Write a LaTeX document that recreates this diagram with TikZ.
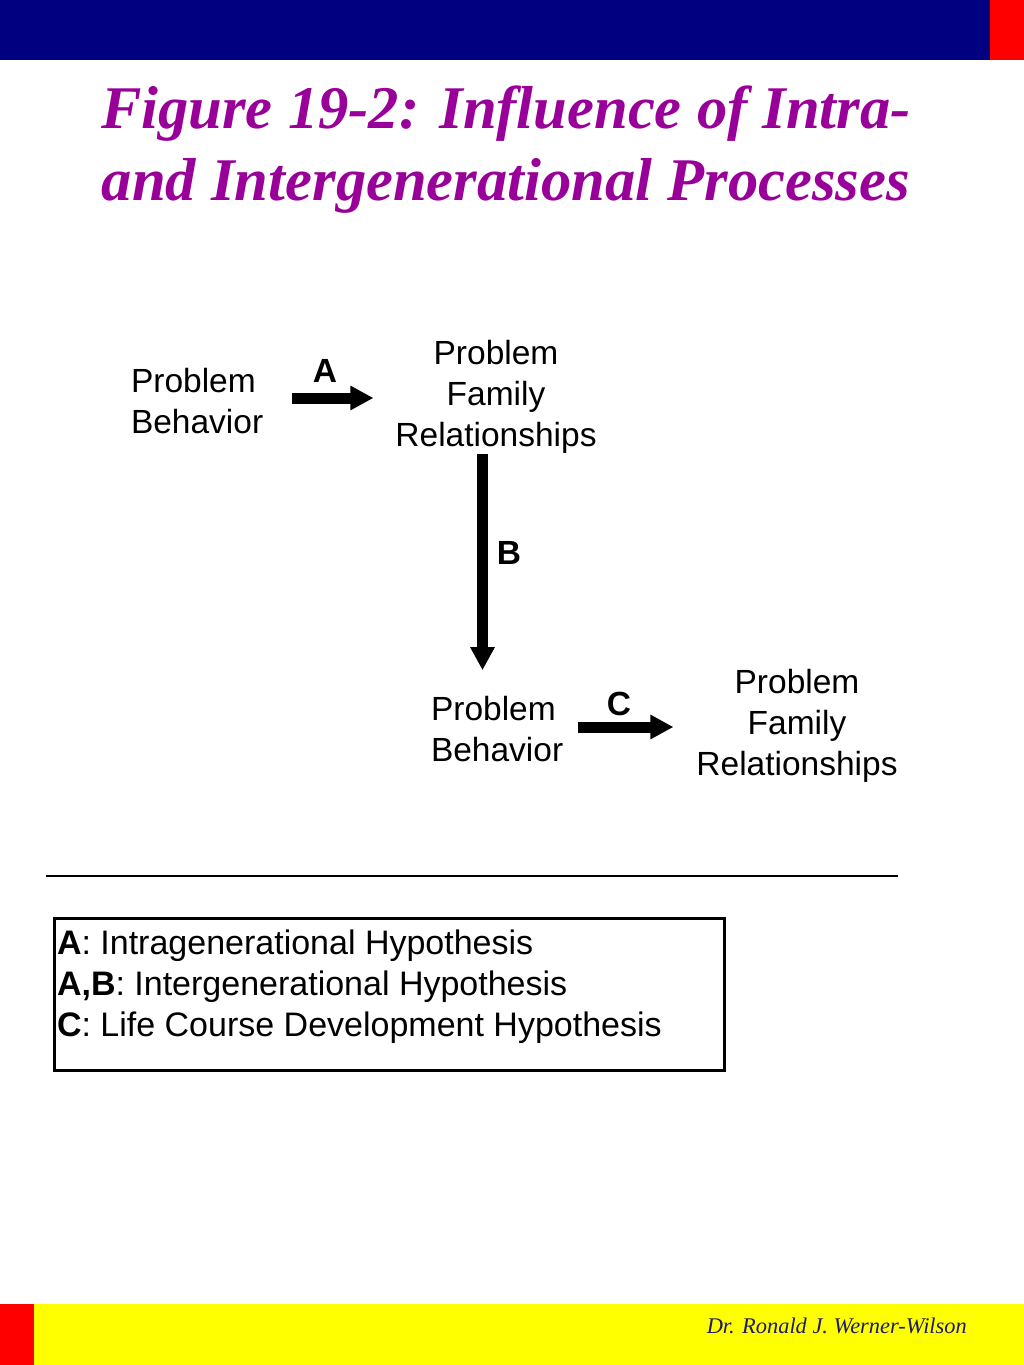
\documentclass[tikz,border=0pt]{standalone}
\usepackage{fontspec}
\setmainfont{Liberation Serif}
\setsansfont{Liberation Sans}
\usetikzlibrary{arrows.meta,calc}
\definecolor{barnavy}{HTML}{000080}
\definecolor{barred}{HTML}{FF0000}
\definecolor{baryellow}{HTML}{FFFF00}
\definecolor{titlepurple}{HTML}{990099}
\definecolor{footnavy}{HTML}{1C1C66}
\tikzset{
  lbl/.style={font=\sffamily\fontsize{33.5}{41}\selectfont, inner sep=0pt, outer sep=0pt},
  clbl/.style={lbl, align=center},
  llbl/.style={lbl, align=left},
  arrlbl/.style={font=\sffamily\bfseries\fontsize{33.5}{41}\selectfont, inner sep=0pt},
  bigarrow/.style={line width=11pt, -{Triangle[length=23pt,width=23pt]}},
}
\begin{document}
\begin{tikzpicture}[x=1pt,y=-1pt]
\useasboundingbox (0,0) rectangle (1024,1365);
% bars
\fill[barnavy] (0,0) rectangle (990,60);
\fill[barred] (990,0) rectangle (1024,60);
\fill[baryellow] (0,1304) rectangle (1024,1365);
\fill[barred] (0,1304) rectangle (34,1365);
% title
\node[anchor=north, inner sep=0pt, align=center, text=titlepurple,
      font=\bfseries\itshape\fontsize{60.6}{72}\selectfont] (title) at (506,86)
  {Figure 19-2: Influence of Intra-\\and Intergenerational Processes};
% diagram nodes
\node[llbl, anchor=west] (pb1) at (131,401) {Problem\\Behavior};
\node[clbl] (pfr1) at (496,397) {Problem\\Family\\Relationships};
\node[llbl, anchor=west] (pb2) at (431,729) {Problem\\Behavior};
\node[clbl] (pfr2) at (797,726) {Problem\\Family\\Relationships};
% arrow labels
\node[arrlbl] (la) at (325,371) {A};
\node[arrlbl] (lb) at (509,553) {B};
\node[arrlbl] (lc) at (619,704) {C};
% arrows
\draw[bigarrow, shorten <=29pt, shorten >=22pt]
  ([yshift=3pt]pb1.east) -- ([yshift=3pt]pb1.east -| pfr1.west);
\draw[bigarrow, shorten <=0pt, shorten >=26pt]
  ([xshift=-13.5pt]pfr1.south) -- ([xshift=-13.5pt]pfr1.south |- pb2.north);
\draw[bigarrow, shorten <=15pt, shorten >=23pt]
  ([yshift=2pt]pb2.east) -- ([yshift=2pt]pb2.east -| pfr2.west);
% rule
\draw[line width=2pt] (46,876) -- (898,876);
% legend
\draw[line width=3pt] (54,918) rectangle (724,1070);
\node[llbl, anchor=north west, font=\sffamily\fontsize{34}{41}\selectfont] (legend) at (57,930)
  {\textbf{A}: Intragenerational Hypothesis\\
   \textbf{A,B}: Intergenerational Hypothesis\\
   \textbf{C}: Life Course Development Hypothesis};
% footer
\node[anchor=base east, inner sep=0pt, text=footnavy,
      font=\itshape\fontsize{22.4}{26}\selectfont] (footer) at (967,1333)
  {Dr. Ronald J. Werner-Wilson};
\end{tikzpicture}
\end{document}
